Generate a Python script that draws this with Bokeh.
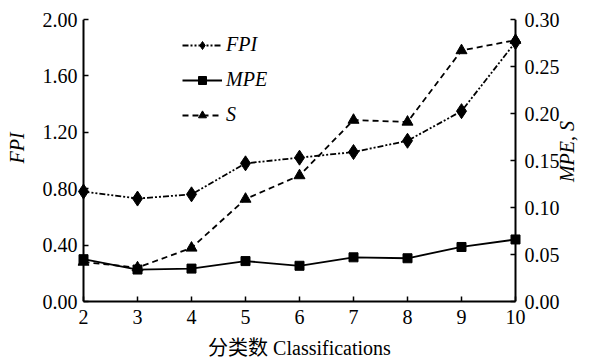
from bokeh.plotting import figure
from bokeh.models import (Range1d, LinearAxis, FixedTicker, Legend,
                          LegendItem, ColumnDataSource, NumeralTickFormatter)
from bokeh.embed import file_html
from bokeh.resources import INLINE
import math

# ---- data ----
classes = [2, 3, 4, 5, 6, 7, 8, 9, 10]
fpi = [0.78, 0.73, 0.76, 0.98, 1.02, 1.06, 1.14, 1.35, 1.84]
mpe = [0.045, 0.034, 0.035, 0.043, 0.038, 0.047, 0.046, 0.058, 0.066]
s_vals = [0.042, 0.036, 0.057, 0.109, 0.134, 0.193, 0.191, 0.267, 0.278]
x_ticks = [2, 3, 4, 5, 6, 7, 8, 9, 10]
fpi_ticks = [0.0, 0.4, 0.8, 1.2, 1.6, 2.0]
right_ticks = [0.0, 0.05, 0.10, 0.15, 0.20, 0.25, 0.30]

# ---- layout constants ----
W, H = 592, 361
PAD = 6                 # px between frame side edge and drawn y spine
SPINE_W = 432
X0, X1 = 2, 10
YL0, YL1 = 0.0, 2.0
YR0, YR1 = 0.0, 0.30
RIGHT_TITLE_AT = 0.127        # where the right-hand title starts (right units)
xu = (X1 - X0) / SPINE_W      # data units per px (x)

SERIF = "'Liberation Serif', 'Times New Roman', serif"
CJK = "'Liberation Serif', 'Noto Sans CJK SC', serif"
FS = "20px"
NB = "\u00a0" * 5   # nudges the left title toward the top, as in the source

p = figure(width=W, height=H, output_backend="svg", toolbar_location=None,
           x_range=Range1d(X0 - PAD * xu, X1 + PAD * xu),
           y_range=Range1d(YL0, YL1),
           min_border_left=77, min_border_right=71,
           min_border_top=19, min_border_bottom=58)
p.extra_y_ranges = {"r": Range1d(YR0, YR1)}
ra = LinearAxis(y_range_name="r")
p.add_layout(ra, "right")
# outer right axis used only to carry the rotated title "MPE, S"
rt = LinearAxis(y_range_name="r", ticker=FixedTicker(ticks=[RIGHT_TITLE_AT]),
                major_label_overrides={RIGHT_TITLE_AT: "MPE, S"})
p.add_layout(rt, "right")

p.outline_line_color = None
p.xgrid.visible = False
p.ygrid.visible = False
p.background_fill_color = "white"
p.border_fill_color = "white"

xa, ya = p.xaxis[0], p.yaxis[0]
for ax in [xa, ya, ra, rt]:
    ax.major_tick_line_width = 1.5
    ax.major_tick_line_color = "black"
    ax.minor_tick_line_color = None
    ax.major_label_text_font = SERIF
    ax.major_label_text_font_size = FS
    ax.major_label_text_color = "black"
    ax.axis_label_text_font = SERIF
    ax.axis_label_text_font_size = FS
    ax.axis_label_text_color = "black"
    ax.axis_label_text_font_style = "italic"

for ax in [ya, ra]:
    ax.axis_line_color = None
    ax.major_tick_in = PAD + 5
    ax.major_tick_out = -PAD

xa.axis_line_color = "black"
xa.axis_line_width = 2
xa.bounds = (X0, X1)
xa.major_tick_in = 5
xa.major_tick_out = 0
xa.ticker = FixedTicker(ticks=x_ticks)
xa.major_label_standoff = 8
xa.axis_label = "分类数 Classifications"
xa.axis_label_text_font = CJK
xa.axis_label_text_font_style = "normal"
xa.axis_label_standoff = 10

ya.ticker = FixedTicker(ticks=fpi_ticks)
ya.formatter = NumeralTickFormatter(format="0.00")
ya.major_label_standoff = 0
ya.axis_label = NB + "FPI"
ya.axis_label_standoff = 12

ra.ticker = FixedTicker(ticks=right_ticks)
ra.formatter = NumeralTickFormatter(format="0.00")
ra.major_label_standoff = 3

rt.axis_line_color = None
rt.major_tick_line_color = None
rt.major_tick_in = 0
rt.major_tick_out = 0
rt.major_label_orientation = math.pi / 2
rt.major_label_text_font_style = "italic"
rt.major_label_standoff = 5

# vertical spines at the ends of the x range
spines = ColumnDataSource(dict(x0=[X0, X1], y0=[YL0, YL0],
                               x1=[X0, X1], y1=[YL1, YL1]))
p.segment("x0", "y0", "x1", "y1", source=spines, line_color="black",
          line_width=2)

# series
l_fpi = p.line(classes, fpi, line_color="black", line_width=1.8,
               line_dash="6 2 2 2 2 2")
m_fpi = p.scatter(classes, fpi, marker="diamond", size=15,
                  fill_color="black", line_color="black")
l_mpe = p.line(classes, mpe, line_color="black", line_width=1.8,
               y_range_name="r")
m_mpe = p.scatter(classes, mpe, marker="square", size=9,
                  fill_color="black", line_color="black", y_range_name="r")
l_s = p.line(classes, s_vals, line_color="black", line_width=1.8,
             line_dash="6 4", y_range_name="r")
m_s = p.scatter(classes, s_vals, marker="triangle", size=11,
                fill_color="black", line_color="black", y_range_name="r")

legend = Legend(items=[
    LegendItem(label="FPI", renderers=[l_fpi, m_fpi]),
    LegendItem(label="MPE", renderers=[l_mpe, m_mpe]),
    LegendItem(label="S", renderers=[l_s, m_s]),
], location=(105, 175), orientation="vertical")
legend.glyph_width = 40
legend.glyph_height = 20
legend.label_height = 20
legend.spacing = 12
legend.padding = 0
legend.margin = 0
legend.label_standoff = 4
legend.border_line_color = None
legend.background_fill_alpha = 0
legend.label_text_font = SERIF
legend.label_text_font_size = FS
legend.label_text_font_style = "italic"
legend.label_text_color = "black"
p.add_layout(legend)

open("out.html", "w").write(file_html(p, INLINE))
